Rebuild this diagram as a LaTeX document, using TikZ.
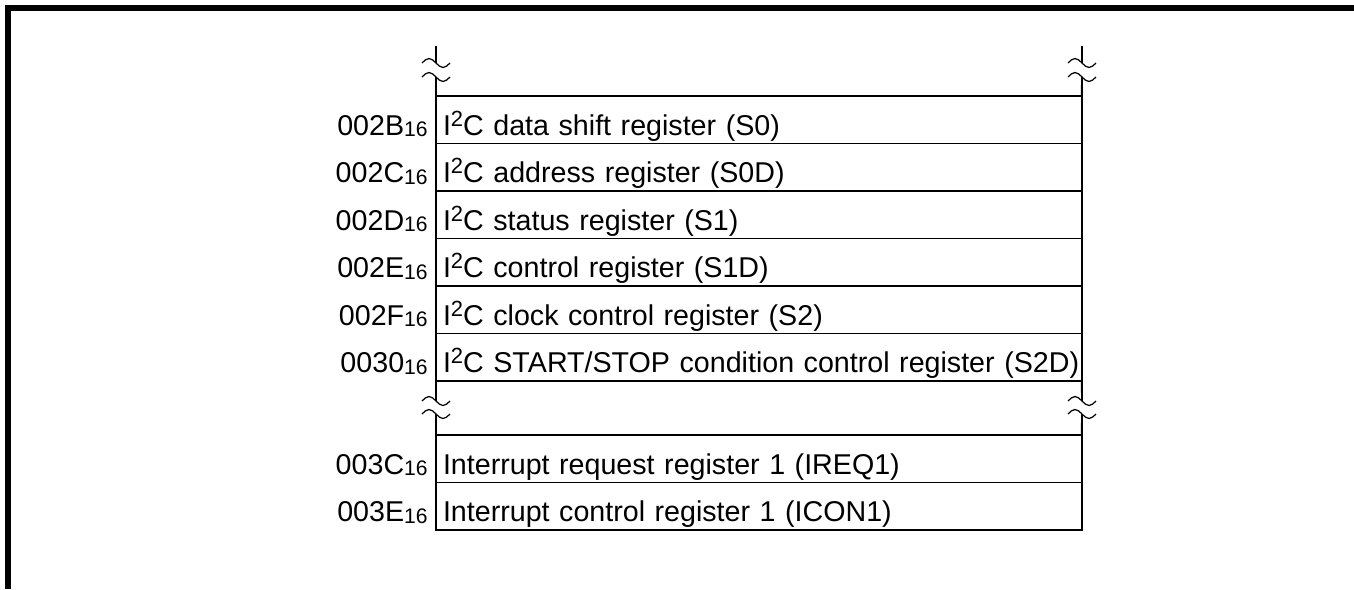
\documentclass[tikz,border=0pt]{standalone}
\usepackage{fontspec}
\setmainfont{Liberation Sans}
\usetikzlibrary{positioning}

\newcommand{\iic}{I\raisebox{5pt}{\fontsize{12.5}{13}\selectfont 2}C}
\newcommand{\hexno}[1]{#1\raisebox{-0.8pt}{\fontsize{12}{13}\selectfont 16}}

\begin{document}
\begin{tikzpicture}[
  x=0.02cm, y=-0.02cm,
  font=\fontsize{16.3}{19}\selectfont,
  regbox/.style={draw=black, line width=1.1pt, outer sep=0pt, anchor=north west,
    minimum height=0.95cm, text width=12.64cm, inner xsep=0.14cm, align=left,
    text height=0.62cm, text depth=0pt},
  addr/.style={anchor=east, inner sep=0pt, text height=0.62cm, text depth=0pt},
  brk/.style={line width=0.7pt},
  edge/.style={line width=1.1pt}
]
  \useasboundingbox (0,0) rectangle (1354,589);

  % Rahmen
  \draw[line width=3pt] (8,589) -- (8,8) -- (1354,8);

  % I2C-Register
  \foreach \a/\txt [count=\i from 0] in {2B/{data shift register (S0)},
      2C/{address register (S0D)}, 2D/{status register (S1)},
      2E/{control register (S1D)}, 2F/{clock control register (S2)},
      30/{START/STOP condition control register (S2D)}} {
    \node[regbox] (r\a) at (436,96+47.5*\i) {\mbox{\iic{} \txt}};
    \node[addr, left=0.16cm of r\a] (a\a) {\hexno{00\a}};
  }

  % Interrupt-Register
  \node[regbox] (r3C) at (436,435) {Interrupt request register 1 (IREQ1)};
  \node[addr, left=0.16cm of r3C] (a3C) {\hexno{003C}};
  \node[regbox, below=0pt of r3C] (r3E) {Interrupt control register 1 (ICON1)};
  \node[addr, left=0.16cm of r3E] (a3E) {\hexno{003E}};

  % Seitenlinien mit Unterbrechung
  \draw[edge] (r2B.north west) -- (436,77);
  \draw[edge] (436,63) -- (436,46);
  \draw[edge] (r2B.north east) -- (1082,77);
  \draw[edge] (1082,63) -- (1082,46);
  \draw[edge] (r30.south west) -- (436,401);
  \draw[edge] (r3C.north west) -- (436,414);
  \draw[edge] (r30.south east) -- (1082,401);
  \draw[edge] (r3C.north east) -- (1082,414);

  % Bruchzeichen
  \foreach \x in {436,1082} {
    \foreach \y in {63,77,401,414} {
      \draw[brk] (\x,\y) ++(-14,0) sin ++(7,-4.5) cos ++(7,4.5)
        sin ++(7,4.5) cos ++(7,-4.5);
    }
  }
\end{tikzpicture}
\end{document}
